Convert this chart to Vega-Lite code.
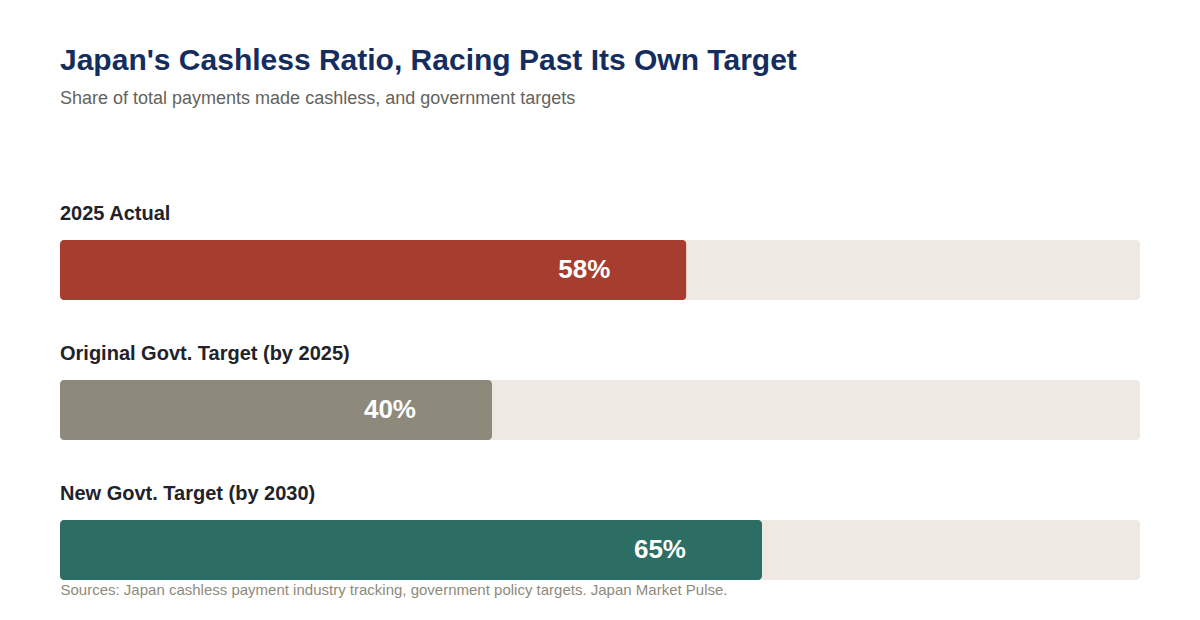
{
  "$schema": "https://vega.github.io/schema/vega-lite/v6.json",
  "width": 1080,
  "height": 340,
  "autosize": "none",
  "padding": {"left": 60, "top": 240, "right": 60, "bottom": 40},
  "background": "#ffffff",
  "title": {
    "text": "Japan's Cashless Ratio, Racing Past Its Own Target",
    "subtitle": "Share of total payments made cashless, and government targets",
    "anchor": "start",
    "frame": "group",
    "offset": 96,
    "font": "Liberation Sans",
    "fontSize": 30,
    "fontWeight": "bold",
    "color": "#152d5e",
    "subtitleFont": "Liberation Sans",
    "subtitleFontSize": 18,
    "subtitleColor": "#63635b",
    "subtitlePadding": 14
  },
  "config": {"view": {"stroke": null}},
  "data": {
    "values": [
      {"label": "2025 Actual", "value": 58, "full": 100, "text": "58%"},
      {"label": "Original Govt. Target (by 2025)", "value": 40, "full": 100, "text": "40%"},
      {"label": "New Govt. Target (by 2030)", "value": 65, "full": 100, "text": "65%"}
    ]
  },
  "encoding": {
    "y": {
      "field": "label",
      "type": "nominal",
      "sort": null,
      "axis": null,
      "scale": {"paddingInner": 0.5714, "paddingOuter": 0}
    }
  },
  "layer": [
    {
      "mark": {"type": "bar", "color": "#eee9e2", "cornerRadius": 4},
      "encoding": {
        "x": {
          "field": "full",
          "type": "quantitative",
          "scale": {"domain": [0, 100]},
          "axis": {
            "title": "Sources: Japan cashless payment industry tracking, government policy targets. Japan Market Pulse.",
            "labels": false,
            "ticks": false,
            "domain": false,
            "grid": false,
            "titleAnchor": "start",
            "titleAlign": "left",
            "titleX": 0,
            "titleY": 2,
            "titleFont": "Liberation Sans",
            "titleFontSize": 15,
            "titleFontWeight": "normal",
            "titleColor": "#8e8a7b"
          }
        }
      }
    },
    {
      "mark": {"type": "bar", "cornerRadius": 4},
      "encoding": {
        "x": {"field": "value", "type": "quantitative"},
        "color": {
          "field": "label",
          "type": "nominal",
          "legend": null,
          "scale": {
            "domain": ["2025 Actual", "Original Govt. Target (by 2025)", "New Govt. Target (by 2030)"],
            "range": ["#a63d2f", "#8e8a7b", "#2c6e63"]
          }
        }
      }
    },
    {
      "mark": {"type": "text", "align": "right", "baseline": "middle", "dx": -76, "font": "Liberation Sans", "fontSize": 26, "fontWeight": "bold", "color": "#ffffff"},
      "encoding": {
        "x": {"field": "value", "type": "quantitative"},
        "text": {"field": "text"}
      }
    },
    {
      "mark": {"type": "text", "align": "left", "baseline": "middle", "dy": -26, "font": "Liberation Sans", "fontSize": 20, "fontWeight": "bold", "color": "#22222a"},
      "encoding": {
        "x": {"datum": 0, "type": "quantitative"},
        "y": {"field": "label", "type": "nominal", "sort": null, "bandPosition": 0},
        "text": {"field": "label"}
      }
    }
  ]
}
